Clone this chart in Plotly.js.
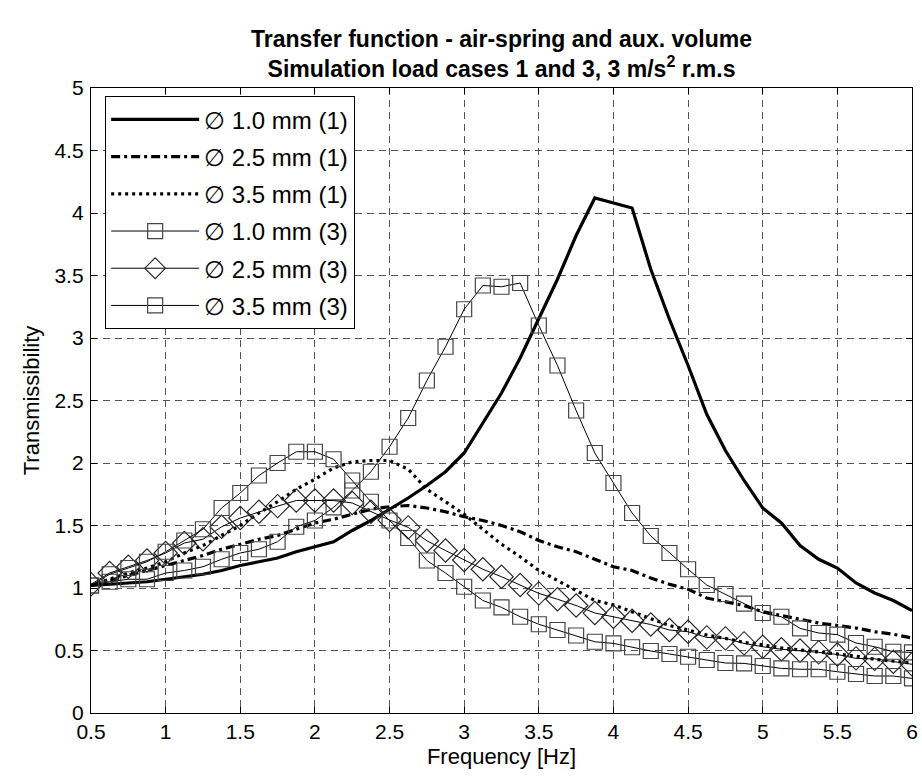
<!DOCTYPE html>
<html>
<head>
<meta charset="utf-8">
<script src="https://cdn.plot.ly/plotly-3.0.1.min.js"></script>
<style>html,body{margin:0;padding:0;background:#fff;}#chart{width:922px;height:780px;}</style>
</head>
<body>
<div id="chart"></div>
<script>
// Frequency grid [Hz]
var freq = [0.5,0.625,0.75,0.875,1.0,1.125,1.25,1.375,1.5,1.625,1.75,1.875,2.0,2.125,2.25,2.375,2.5,2.625,2.75,2.875,3.0,3.125,3.25,3.375,3.5,3.625,3.75,3.875,4.0,4.125,4.25,4.375,4.5,4.625,4.75,4.875,5.0,5.125,5.25,5.375,5.5,5.625,5.75,5.875,6.0];

// Load case 1 (thick lines)
var d10_case1 = [1.02,1.03,1.04,1.05,1.07,1.09,1.11,1.14,1.18,1.21,1.24,1.29,1.33,1.37,1.46,1.54,1.63,1.72,1.82,1.93,2.08,2.32,2.56,2.84,3.15,3.47,3.82,4.12,4.08,4.04,3.55,3.15,2.78,2.39,2.10,1.86,1.64,1.52,1.34,1.23,1.16,1.04,0.96,0.90,0.82];
var d25_case1 = [1.02,1.06,1.10,1.14,1.18,1.22,1.26,1.31,1.35,1.39,1.42,1.47,1.52,1.55,1.59,1.63,1.65,1.66,1.64,1.61,1.57,1.54,1.50,1.45,1.38,1.33,1.29,1.23,1.17,1.14,1.08,1.03,0.99,0.92,0.89,0.86,0.81,0.78,0.75,0.72,0.70,0.68,0.65,0.63,0.60];
var d35_case1 = [1.02,1.07,1.12,1.16,1.21,1.28,1.34,1.42,1.50,1.60,1.69,1.79,1.87,1.96,2.01,2.02,2.02,1.95,1.79,1.69,1.59,1.47,1.35,1.25,1.14,1.06,0.98,0.90,0.865,0.81,0.755,0.70,0.665,0.624,0.597,0.565,0.545,0.52,0.505,0.49,0.475,0.455,0.43,0.418,0.40];

// Load case 3 (thin lines with markers)
var d10_case3 = [1.02,1.05,1.07,1.07,1.12,1.14,1.17,1.23,1.28,1.31,1.37,1.49,1.54,1.645,1.78,1.93,2.13,2.36,2.66,2.93,3.23,3.42,3.41,3.44,3.10,2.78,2.42,2.08,1.84,1.60,1.416,1.28,1.15,1.024,0.952,0.875,0.80,0.77,0.677,0.64,0.627,0.56,0.53,0.49,0.485];
var d25_case3 = [1.03,1.12,1.17,1.22,1.28,1.36,1.39,1.49,1.56,1.61,1.655,1.70,1.70,1.70,1.68,1.61,1.544,1.485,1.378,1.30,1.224,1.15,1.09,1.024,0.957,0.91,0.86,0.80,0.77,0.738,0.708,0.664,0.65,0.605,0.597,0.557,0.53,0.51,0.50,0.485,0.468,0.437,0.433,0.41,0.39];
var d35_case3 = [1.02,1.11,1.16,1.21,1.29,1.38,1.47,1.64,1.76,1.90,2.0,2.09,2.09,2.03,1.86,1.69,1.54,1.40,1.22,1.12,1.01,0.90,0.845,0.77,0.71,0.664,0.62,0.57,0.557,0.526,0.496,0.472,0.45,0.424,0.40,0.397,0.376,0.357,0.35,0.35,0.33,0.312,0.296,0.296,0.277];

var names = ['\u2205 1.0 mm (1)','\u2205 2.5 mm (1)','\u2205 3.5 mm (1)','\u2205 1.0 mm (3)','\u2205 2.5 mm (3)','\u2205 3.5 mm (3)'];
var xticks = [0.5,1,1.5,2,2.5,3,3.5,4,4.5,5,5.5,6];
var yticks = [0,0.5,1,1.5,2,2.5,3,3.5,4,4.5,5];

var FONT = 'Liberation Sans, Arial, Helvetica, sans-serif';

var traces = [
  {x:freq, y:d10_case1, name:names[0], mode:'lines', line:{color:'#000', width:3.2}},
  {x:freq, y:d25_case1, name:names[1], mode:'lines', line:{color:'#000', width:3.2, dash:'9px,4px,3px,4px'}},
  {x:freq, y:d35_case1, name:names[2], mode:'lines', line:{color:'#000', width:3.2, dash:'3px,4px'}},
  {x:freq, y:d10_case3, name:names[3], mode:'lines+markers', line:{color:'#000', width:1},
   marker:{symbol:'square-open', size:15, color:'#444', line:{width:1.2, color:'#444'}}},
  {x:freq, y:d25_case3, name:names[4], mode:'lines+markers', line:{color:'#000', width:1},
   marker:{symbol:'diamond-open', size:18, color:'#222', line:{width:1.1, color:'#222'}}},
  {x:freq, y:d35_case3, name:names[5], mode:'lines+markers', line:{color:'#000', width:1},
   marker:{symbol:'square-open', size:15, color:'#444', line:{width:1.2, color:'#444'}}}
];
traces.forEach(function(t,i){ t.legendgroup = 'g'+i; });

var axisCommon = {
  showline:true, linecolor:'#000', linewidth:1.2, mirror:'ticks',
  ticks:'inside', ticklen:6, tickcolor:'#000', tickwidth:1,
  showgrid:true, gridcolor:'#555', gridwidth:1, griddash:'7px,5px',
  zeroline:false,
  tickfont:{family:FONT, size:21, color:'#000'}
};

var layout = {
  width:922, height:780,
  paper_bgcolor:'#fff', plot_bgcolor:'#fff',
  margin:{l:91, r:10, t:88, b:67},
  font:{family:FONT, color:'#000'},
  title:{
    text:'<b>Transfer function - air-spring and aux. volume</b><br><b>Simulation load cases 1 and 3, 3 m/s<sup>2</sup> r.m.s</b>',
    font:{family:FONT, size:23, color:'#000'},
    x:0.5, xref:'paper', xanchor:'center', y:0.94, yanchor:'middle'
  },
  xaxis:Object.assign({}, axisCommon, {
    range:[0.5,6], tickvals:xticks, ticktext:xticks.map(String),
    title:{text:'Frequency [Hz]', font:{family:FONT, size:22, color:'#000'}, standoff:6}
  }),
  yaxis:Object.assign({}, axisCommon, {
    range:[0,5], tickvals:yticks, ticktext:yticks.map(String),
    ticklabelstandoff:2,
    title:{text:'Transmissibility', font:{family:FONT, size:22, color:'#000'}, standoff:8}
  }),
  showlegend:true,
  legend:{
    x:0.017, y:0.987, xanchor:'left', yanchor:'top',
    bgcolor:'#fff', bordercolor:'#000', borderwidth:1.2,
    font:{family:FONT, size:24, color:'#000'},
    traceorder:'grouped', tracegroupgap:3, itemwidth:88
  }
};

Plotly.newPlot('chart', traces, layout, {displayModeBar:false, staticPlot:true});
</script>
</body>
</html>
